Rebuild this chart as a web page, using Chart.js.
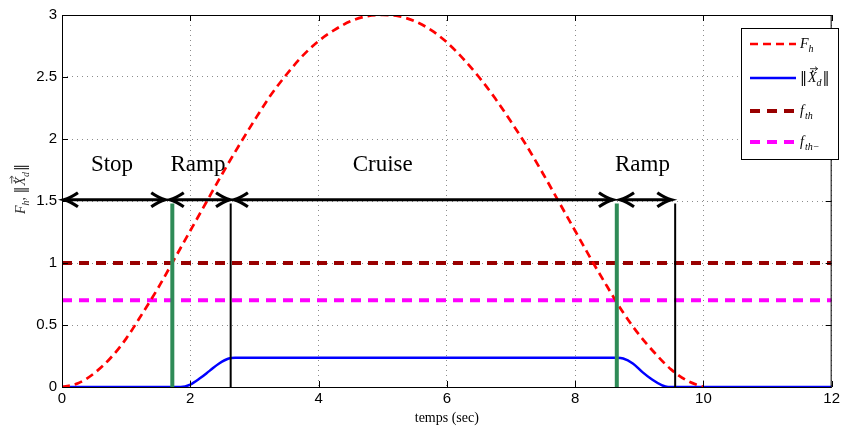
<!DOCTYPE html>
<html>
<head>
<meta charset="utf-8">
<script src="https://cdn.jsdelivr.net/npm/chart.js@4.4.0/dist/chart.umd.min.js"></script>
<style>
  html, body { margin: 0; padding: 0; background: #fff; }
</style>
</head>
<body>
<canvas id="chart" width="843" height="431"></canvas>
<script>
// F_h (red dashed)
const fhX = [0, 0.25, 0.5, 0.75, 1, 1.25, 1.5, 1.75, 2, 2.25, 2.5, 2.75, 3, 3.25, 3.5, 3.75, 4, 4.25, 4.5, 4.75, 5,
             5.25, 5.5, 5.75, 6, 6.25, 6.5, 6.75, 7, 7.25, 7.5, 7.75, 8, 8.25, 8.5, 8.75, 9, 9.25, 9.5, 9.75, 10];
const fhY = [0, 0.03, 0.11, 0.23, 0.39, 0.59, 0.8, 1.03, 1.26, 1.49, 1.72, 1.94, 2.15, 2.35, 2.52, 2.67, 2.79, 2.88, 2.95, 2.99, 3.0,
             2.99, 2.95, 2.88, 2.78, 2.65, 2.5, 2.33, 2.14, 1.94, 1.72, 1.49, 1.26, 1.03, 0.81, 0.6, 0.42, 0.27, 0.14, 0.05, 0];

// ||Xd|| (blue)
const xdX = [0, 1.85, 2.0, 2.15, 2.3, 2.45, 2.6, 2.7, 8.65, 8.75, 8.9, 9.05, 9.2, 9.35, 9.45, 12];
const xdY = [0, 0, 0.02, 0.07, 0.13, 0.19, 0.23, 0.235, 0.235, 0.23, 0.19, 0.12, 0.06, 0.015, 0, 0];

// thresholds
const fTh = 1.0;
const fThMinus = 0.7;

// phase boundaries
const greenX = [1.72, 8.65];
const blackX = [2.63, 9.56];
const boundaryTop = 1.48;

// phase arrows and labels
const arrowStarts = [0.03, 1.68, 2.68, 8.7];
const arrowEnds = [1.61, 2.62, 8.59, 9.5];
const arrowLevel = 1.51;
const phaseLabels = ['Stop', 'Ramp', 'Cruise', 'Ramp'];
const phaseLabelX = [0.78, 2.12, 5.0, 9.05];
const phaseLabelY = 1.79;

const xTicks = [0, 2, 4, 6, 8, 10, 12];
const yTicks = [0, 0.5, 1, 1.5, 2, 2.5, 3];

const pts = (xs, ys) => xs.map((v, i) => ({ x: v, y: ys[i] }));

const datasets = [];
greenX.forEach(v => datasets.push({
  data: [{ x: v, y: 0 }, { x: v, y: boundaryTop }],
  borderColor: 'rgb(46,139,87)', borderWidth: 4, pointRadius: 0, order: 0
}));
blackX.forEach(v => datasets.push({
  data: [{ x: v, y: 0 }, { x: v, y: boundaryTop }],
  borderColor: '#000', borderWidth: 2, pointRadius: 0, order: 0
}));
datasets.push({
  label: 'Fh', legend: 'Fh', data: pts(fhX, fhY),
  borderColor: 'rgb(255,0,0)', borderWidth: 2.7, borderDash: [8, 5],
  pointRadius: 0, cubicInterpolationMode: 'monotone', order: 1
});
datasets.push({
  label: 'Xd', legend: 'Xd', data: pts(xdX, xdY),
  borderColor: 'rgb(0,0,255)', borderWidth: 2.5,
  pointRadius: 0, cubicInterpolationMode: 'monotone', order: 2
});
datasets.push({
  label: 'fth', legend: 'fth', data: [{ x: 0, y: fTh }, { x: 12, y: fTh }],
  borderColor: 'rgb(153,0,0)', borderWidth: 4, borderDash: [10, 7],
  pointRadius: 0, order: 3
});
datasets.push({
  label: 'fth-', legend: 'fthm', data: [{ x: 0, y: fThMinus }, { x: 12, y: fThMinus }],
  borderColor: 'rgb(255,0,255)', borderWidth: 4, borderDash: [10, 7],
  pointRadius: 0, order: 4
});

// small helper for math-ish text: base (italic) + subscript
function mathText(ctx, x, y, key, size) {
  const it = 'italic ' + size + 'px "Liberation Serif"';
  const rm = size + 'px "DejaVu Serif"';
  const sub = 'italic ' + Math.round(size * 0.72) + 'px "Liberation Serif"';
  const sdy = size * 0.3;
  let cx = x;
  const put = (t, f, dy) => { ctx.font = f; ctx.fillText(t, cx, y + (dy || 0)); cx += ctx.measureText(t).width; };
  ctx.textAlign = 'left';
  ctx.textBaseline = 'alphabetic';
  if (key === 'Fh') { put('F', it); put('h', sub, sdy); }
  else if (key === 'fth') { put('f', it); cx += 1; put('th', sub, sdy); }
  else if (key === 'fthm') { put('f', it); cx += 1; put('th\u2212', sub, sdy); }
  else if (key === 'Xd') {
    put('\u2016', rm);
    cx += 1;
    const x0 = cx;
    put('X', it);
    // vector arrow + dot over X
    const w = cx - x0;
    const ay = y - size * 0.95;
    ctx.save();
    ctx.lineWidth = 0.8;
    ctx.strokeStyle = ctx.fillStyle;
    ctx.beginPath();
    ctx.moveTo(x0 + 2, ay); ctx.lineTo(x0 + w + 1, ay);
    ctx.moveTo(x0 + w - 1.5, ay - 2); ctx.lineTo(x0 + w + 1, ay); ctx.lineTo(x0 + w - 1.5, ay + 2);
    ctx.stroke();
    ctx.beginPath();
    ctx.arc(x0 + w * 0.55, ay + size * 0.18, 0.9, 0, Math.PI * 2);
    ctx.fill();
    ctx.restore();
    put('d', sub, sdy);
    cx += 1;
    put('\u2016', rm);
  }
  return cx - x;
}

function arrowHead(ctx, tx, ty, dir) {
  const L = 14, W = 7;
  ctx.beginPath();
  ctx.moveTo(tx - dir * L, ty - W);
  ctx.quadraticCurveTo(tx - dir * L * 0.45, ty - W * 0.25, tx, ty);
  ctx.quadraticCurveTo(tx - dir * L * 0.45, ty + W * 0.25, tx - dir * L, ty + W);
  ctx.stroke();
}

const overlay = {
  id: 'overlay',
  afterDraw(chart) {
    const { ctx, chartArea: a, scales: { x, y } } = chart;
    ctx.save();

    // axes box with inward ticks
    ctx.strokeStyle = '#000';
    ctx.lineWidth = 1;
    ctx.strokeRect(a.left + 0.5, a.top + 0.5, a.right - a.left - 1, a.bottom - a.top);
    ctx.beginPath();
    xTicks.forEach(v => {
      const px = Math.round(x.getPixelForValue(v)) + 0.5;
      ctx.moveTo(px, a.bottom); ctx.lineTo(px, a.bottom - 6);
      ctx.moveTo(px, a.top); ctx.lineTo(px, a.top + 6);
    });
    yTicks.forEach(v => {
      const py = Math.round(y.getPixelForValue(v)) + 0.5;
      ctx.moveTo(a.left, py); ctx.lineTo(a.left + 6, py);
      ctx.moveTo(a.right, py); ctx.lineTo(a.right - 6, py);
    });
    ctx.stroke();

    // phase arrows
    ctx.strokeStyle = '#000';
    ctx.lineWidth = 3.2;
    ctx.lineCap = 'butt';
    ctx.lineJoin = 'miter';
    const ay = y.getPixelForValue(arrowLevel);
    arrowStarts.forEach((s, i) => {
      const x1 = x.getPixelForValue(s), x2 = x.getPixelForValue(arrowEnds[i]);
      ctx.beginPath();
      ctx.moveTo(x1 + 3, ay); ctx.lineTo(x2 - 3, ay);
      ctx.stroke();
      arrowHead(ctx, x1, ay, -1);
      arrowHead(ctx, x2, ay, 1);
    });

    // phase labels
    ctx.fillStyle = '#000';
    ctx.font = '23px "Liberation Serif"';
    ctx.textAlign = 'center';
    ctx.textBaseline = 'middle';
    phaseLabels.forEach((t, i) => {
      ctx.fillText(t, x.getPixelForValue(phaseLabelX[i]), y.getPixelForValue(phaseLabelY));
    });

    // legend
    const lx = 741, ly = 28, lw = 97, lh = 131;
    ctx.fillStyle = '#fff';
    ctx.fillRect(lx, ly, lw, lh);
    ctx.strokeStyle = '#000';
    ctx.lineWidth = 1;
    ctx.strokeRect(lx + 0.5, ly + 0.5, lw, lh);
    const rows = [44, 78, 111, 142];
    const legendSets = chart.data.datasets.filter(d => d.legend);
    legendSets.forEach((d, i) => {
      const ry = rows[i];
      ctx.save();
      ctx.strokeStyle = d.borderColor;
      ctx.lineWidth = d.borderWidth;
      ctx.setLineDash(d.borderDash || []);
      ctx.beginPath();
      ctx.moveTo(750, ry); ctx.lineTo(796, ry);
      ctx.stroke();
      ctx.restore();
      ctx.fillStyle = '#000';
      mathText(ctx, 800, ry + 4, d.legend, 14);
    });

    // y axis title (rotated)
    ctx.save();
    ctx.translate(25, 189);
    ctx.rotate(-Math.PI / 2);
    ctx.fillStyle = '#333';
    const parts = () => {
      let cx = 0;
      cx += mathText(ctx, cx, 0, 'Fh', 14);
      ctx.font = '14px "Liberation Serif"';
      ctx.fillText(',', cx, 0);
      cx += ctx.measureText(', ').width;
      cx += mathText(ctx, cx, 0, 'Xd', 14);
      return cx;
    };
    ctx.save(); ctx.globalAlpha = 0; const w = parts(); ctx.restore();
    ctx.translate(-w / 2, 0);
    parts();
    ctx.restore();

    ctx.restore();
  }
};

new Chart(document.getElementById('chart'), {
  type: 'line',
  data: { datasets },
  options: {
    responsive: false,
    animation: false,
    devicePixelRatio: 1,
    layout: { padding: { top: 15, right: 11, left: 0, bottom: 0 } },
    plugins: { legend: { display: false }, tooltip: { enabled: false } },
    scales: {
      x: {
        type: 'linear', min: 0, max: 12,
        afterBuildTicks: s => { s.ticks = xTicks.map(v => ({ value: v })); },
        afterFit: s => { s.height = 44; },
        ticks: { color: '#000', font: { family: '"Liberation Sans"', size: 15 }, padding: 3, maxRotation: 0, callback: v => String(v) },
        grid: { color: 'rgba(0,0,0,0.45)', lineWidth: 1, drawTicks: false },
        border: { display: false, dash: [1, 4] },
        title: { display: true, text: 'temps (sec)', color: '#000', font: { family: '"Liberation Serif"', size: 14 }, padding: { top: 2 } }
      },
      y: {
        type: 'linear', min: 0, max: 3,
        afterBuildTicks: s => { s.ticks = yTicks.map(v => ({ value: v })); },
        afterFit: s => { s.width = 62; },
        ticks: { color: '#000', font: { family: '"Liberation Sans"', size: 15 }, padding: 5, callback: v => String(v) },
        grid: { color: 'rgba(0,0,0,0.45)', lineWidth: 1, drawTicks: false },
        border: { display: false, dash: [1, 4] }
      }
    }
  },
  plugins: [overlay]
});
</script>
</body>
</html>
